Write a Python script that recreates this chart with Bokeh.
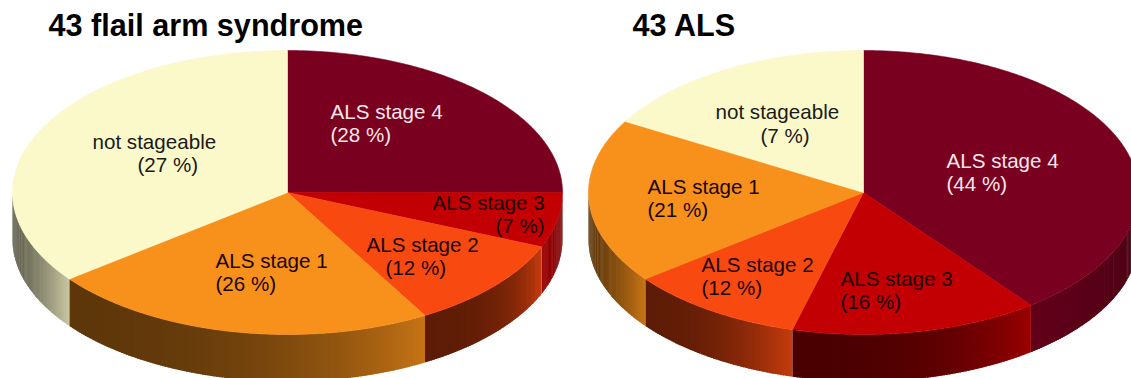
import numpy as np
from bokeh.plotting import figure
from bokeh.models import Range1d
from bokeh.embed import file_html
from bokeh.resources import INLINE
from bokeh.core.properties import value

W, H = 1131, 378

# ---------------- data ----------------
categories = ["ALS stage 4", "ALS stage 3", "ALS stage 2", "ALS stage 1", "not stageable"]
left_title = "43 flail arm syndrome"
right_title = "43 ALS"
# percentages printed in the labels
left_pct = [28, 7, 12, 26, 27]
right_pct = [44, 16, 12, 21, 7]
# slice sizes as drawn in the picture (relative units, clockwise from 12 o'clock)
left_share = [12, 3, 5, 11, 17]
right_share = [19, 7, 5, 9, 8]

# ---------------- style ----------------
colors = ["#7a0020", "#c20003", "#f84a10", "#f8911b", "#fbf9ca"]
label_colors = ["#f6e6ea", "#1a0505", "#1a0505", "#1a0505", "#1a1a1a"]
FONT = "Liberation Sans"
LABEL_SIZE = 20.6
TITLE_SIZE = 30.6
# empirical offset from the wanted baseline to the y given to the text glyph
LABEL_DY = -9.0
TITLE_DY = -13.0

# label layout: (x line1, baseline line1, x line2, baseline line2)
left_label_pos = [(330, 120, 330, 143),
                  (432, 211, 495, 234),
                  (366, 253, 385, 276),
                  (215, 269, 215, 292),
                  (92, 150, 137, 173)]
right_label_pos = [(946, 169, 946, 192),
                   (840, 287, 840, 310),
                   (701, 273, 701, 296),
                   (647, 195, 647, 218),
                   (715, 120, 760, 144)]


def hex2rgb(h):
    h = h.lstrip("#")
    return tuple(int(h[i:i + 2], 16) for i in (0, 2, 4))


def shade(h, k):
    r, g, b = hex2rgb(h)
    return "#%02x%02x%02x" % tuple(max(0, min(255, int(round(c * k)))) for c in (r, g, b))


p = figure(width=W, height=H, x_range=Range1d(0, W), y_range=Range1d(H, 0),
           output_backend="svg", toolbar_location=None, min_border=0,
           x_axis_type=None, y_axis_type=None)
p.outline_line_color = None
p.background_fill_color = "white"
p.border_fill_color = "white"


def draw_pie(cx, cy, rx, ry, depth, shares, pct, label_pos, title, title_x):
    total = float(sum(shares))
    edges = np.concatenate([[0.0], np.cumsum(shares)]) / total * 360.0

    # side walls (front half only)
    wx, wy, wc = [], [], []
    for i in range(len(shares)):
        a0, a1 = edges[i], edges[i + 1]
        lo, hi = max(a0, 90.0), min(a1, 270.0)
        if hi <= lo:
            continue
        mid = (lo + hi) / 2
        steps = int(np.ceil((hi - lo) / 0.6))
        ph = np.linspace(lo, hi, steps + 1)
        for j in range(steps):
            q0, q1 = np.radians(ph[j]), np.radians(min(ph[j + 1] + 0.3, hi))
            x0, y0 = cx + rx * np.sin(q0), cy - ry * np.cos(q0)
            x1, y1 = cx + rx * np.sin(q1), cy - ry * np.cos(q1)
            t = (hi - (ph[j] + ph[j + 1]) / 2) / (hi - lo)  # 0 at left end, 1 at right end
            if mid < 120:
                k = 0.80 - 0.22 * t
            else:
                k = 0.38 + 0.42 * t ** 2.5
            wx.append([x0, x1, x1, x0])
            wy.append([y0, y1, y1 + depth, y0 + depth])
            wc.append(shade(colors[i], k))
    p.patches(wx, wy, fill_color=wc, line_color=None)

    # top faces
    xs, ys = [], []
    for i in range(len(shares)):
        ph = np.radians(np.linspace(edges[i], edges[i + 1], max(3, int((edges[i + 1] - edges[i]) * 2))))
        xs.append([cx] + list(cx + rx * np.sin(ph)))
        ys.append([cy] + list(cy - ry * np.cos(ph)))
    p.patches(xs, ys, fill_color=colors, line_color=colors, line_width=0.6)

    # labels
    for i in range(len(shares)):
        x1, b1, x2, b2 = label_pos[i]
        p.text(x=[x1, x2], y=[b1 + LABEL_DY, b2 + LABEL_DY],
               text=[categories[i], "(%d %%)" % pct[i]],
               text_font=value(FONT), text_font_size="%.1fpx" % LABEL_SIZE,
               text_color=label_colors[i], text_align="left",
               text_baseline="alphabetic")

    p.text(x=[title_x], y=[37 + TITLE_DY], text=[title], text_font=value(FONT),
           text_font_size="%.1fpx" % TITLE_SIZE, text_font_style="bold",
           text_color="#000000", text_align="left", text_baseline="alphabetic")


draw_pie(287, 192, 275, 142, 47, left_share, left_pct, left_label_pos, left_title, 48)
draw_pie(863, 192, 275, 142, 47, right_share, right_pct, right_label_pos, right_title, 632)

open("out.html", "w").write(file_html(p, INLINE))
